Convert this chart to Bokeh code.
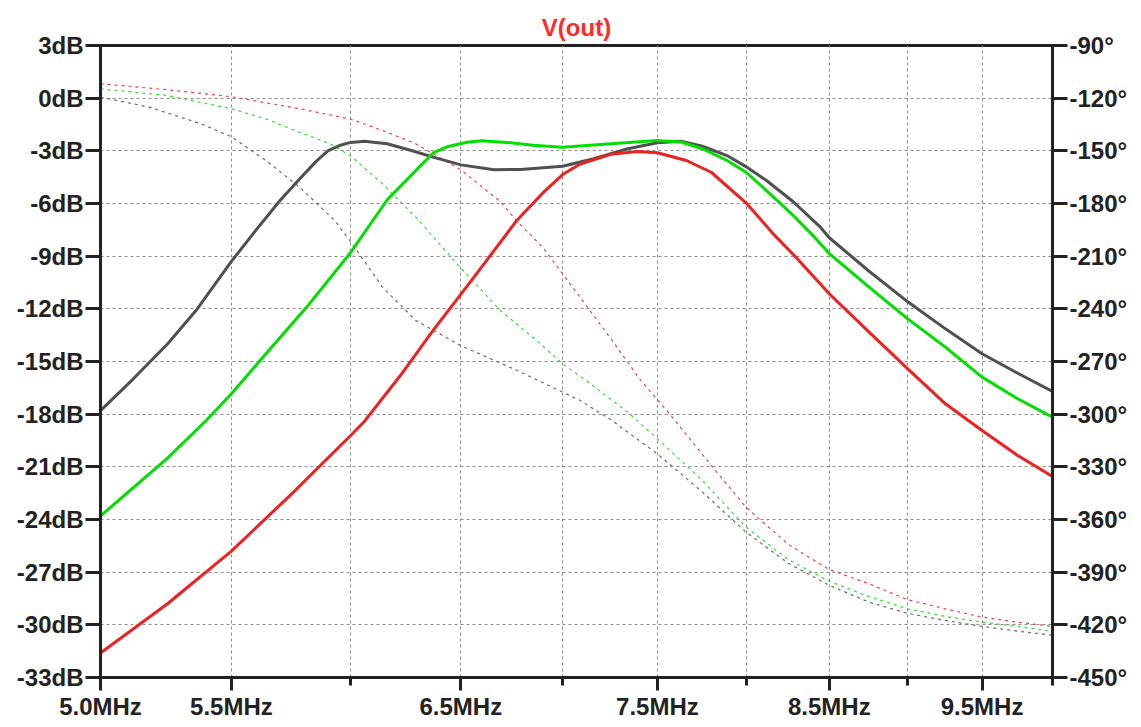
from bokeh.plotting import figure
from bokeh.models import Range1d, LinearAxis, FixedTicker, CustomJSTickFormatter
from bokeh.embed import file_html
from bokeh.resources import INLINE

# ---------------- data ----------------
# magnitude curves, dB vs MHz
gray_mag_freq = [5.0, 5.12, 5.25, 5.36, 5.5, 5.6, 5.7, 5.78, 5.85, 5.9, 5.95, 6.0,
                 6.06, 6.16, 6.27, 6.37, 6.5, 6.66, 6.79, 7.0, 7.16, 7.34, 7.5,
                 7.63, 7.75, 7.89, 8.0, 8.12, 8.28, 8.44, 8.5, 8.75, 9.0, 9.25,
                 9.5, 9.75, 10.0]
gray_mag = [-17.8, -16.0, -14.0, -12.1, -9.3, -7.5, -5.8, -4.6, -3.6, -3.0, -2.7, -2.52,
            -2.45, -2.6, -2.98, -3.36, -3.8, -4.08, -4.06, -3.88, -3.45, -2.88, -2.54,
            -2.45, -2.74, -3.27, -3.9, -4.69, -5.9, -7.3, -7.95, -9.86, -11.6, -13.14,
            -14.56, -15.67, -16.7]

green_mag_freq = [5.0, 5.25, 5.4, 5.5, 5.64, 5.81, 6.0, 6.16, 6.3, 6.37, 6.44, 6.53,
                  6.6, 6.74, 6.85, 7.0, 7.25, 7.5, 7.63, 7.75, 7.89, 8.0, 8.12,
                  8.28, 8.39, 8.5, 8.75, 9.0, 9.25, 9.5, 9.75, 10.0]
green_mag = [-23.8, -20.5, -18.36, -16.84, -14.56, -11.9, -8.77, -5.8, -4.0, -3.12, -2.75, -2.51,
             -2.43, -2.54, -2.68, -2.8, -2.6, -2.41, -2.5, -2.88, -3.55, -4.22, -5.26,
             -6.68, -7.73, -8.85, -10.76, -12.57, -14.18, -15.89, -17.12, -18.17]

red_mag_freq = [5.0, 5.25, 5.5, 5.75, 6.0, 6.06, 6.22, 6.37, 6.55, 6.77, 6.9, 7.0,
                7.09, 7.25, 7.39, 7.5, 7.66, 7.8, 8.0, 8.16, 8.3, 8.5, 8.75, 9.0,
                9.25, 9.5, 9.75, 10.0]
red_mag = [-31.6, -28.8, -25.8, -22.5, -19.2, -18.4, -15.8, -13.23, -10.39, -6.97, -5.4, -4.35,
           -3.75, -3.2, -3.04, -3.11, -3.55, -4.22, -5.96, -7.73, -9.1, -11.14, -13.33, -15.42,
           -17.41, -18.93, -20.35, -21.55]

# phase curves, degrees vs MHz
gray_phase_freq = [5.0, 5.18, 5.38, 5.5, 5.64, 5.78, 5.93, 6.0, 6.14, 6.29, 6.5, 6.77,
                   7.09, 7.25, 7.5, 7.75, 8.0, 8.25, 8.5, 8.75, 9.0, 9.25, 9.5, 9.75, 10.0]
gray_phase = [-119.4, -125.1, -134.6, -142, -155.5, -170.7, -189.7, -202, -227.7, -246.6, -261,
              -275, -292.2, -303.2, -322.6, -344.4, -367.2, -384.9, -397.5, -407.1, -413.5,
              -417.5, -420.9, -423.6, -425.9]

green_phase_freq = [5.0, 5.25, 5.5, 5.64, 5.78, 5.91, 6.0, 6.14, 6.29, 6.5, 6.69, 6.85,
                    7.0, 7.12, 7.34, 7.5, 7.75, 8.0, 8.25, 8.5, 8.75, 9.0, 9.25, 9.5,
                    9.75, 10.0]
green_phase = [-114.7, -118.5, -126, -131.8, -139.4, -146, -153, -168.8, -187.8, -216.8, -241,
               -256.2, -271.3, -280.8, -298.9, -314, -337.8, -364.4, -382.8, -395.2, -403.9,
               -410.9, -415.2, -418.5, -420.9, -423.7]

red_phase_freq = [5.0, 5.25, 5.5, 5.78, 6.0, 6.14, 6.29, 6.5, 6.69, 6.77, 6.9, 7.0,
                  7.25, 7.41, 7.57, 7.8, 8.0, 8.08, 8.26, 8.5, 8.75, 9.0, 9.25, 9.5,
                  9.75, 10.0]
red_phase = [-111.8, -115.2, -119.2, -126, -132, -138.4, -146, -160.8, -179, -190, -205, -220,
             -257, -280.8, -300.2, -329.2, -353, -360, -374.8, -388.5, -396.6, -405.7, -410.9,
             -415.6, -418.5, -420.9]

X_MAJOR = [5.0, 5.5, 6.5, 7.5, 8.5, 9.5]
X_MINOR = [6.0, 7.0, 8.0, 9.0, 10.0]
DB_TICKS = list(range(-33, 4, 3))
DEG_TICKS = list(range(-450, -89, 30))

TITLE = "V(out)"
GRAY, GREEN, RED = "#505050", "#00e000", "#f02020"
FONT = "Liberation Sans"
AXC = "#222222"

# ---------------- figure ----------------
p = figure(width=1133, height=723, x_axis_type="log",
           x_range=Range1d(5.0, 10.0), y_range=Range1d(-33, 3),
           output_backend="svg", toolbar_location=None,
           min_border_left=100, min_border_right=81,
           min_border_top=45, min_border_bottom=46)
p.extra_y_ranges = {"phase": Range1d(-450, -90)}

p.title.text = TITLE
p.title.align = "center"
p.title.text_color = "#ff2a2a"
p.title.text_font = FONT
p.title.text_font_size = "24px"
p.title.text_font_style = "bold"

p.outline_line_color = AXC
p.outline_line_width = 3
p.background_fill_color = "white"
p.border_fill_color = "white"


def style_axis(ax, tick_out, minor_out=0):
    ax.axis_line_color = AXC
    ax.axis_line_width = 3
    ax.major_tick_line_color = AXC
    ax.major_tick_line_width = 3
    ax.major_tick_out = tick_out
    ax.major_tick_in = 0
    ax.minor_tick_line_color = AXC if minor_out else None
    ax.minor_tick_line_width = 3
    ax.minor_tick_out = minor_out
    ax.minor_tick_in = 0
    ax.major_label_text_font = FONT
    ax.major_label_text_font_size = "24px"
    ax.major_label_text_font_style = "bold"
    ax.major_label_text_color = AXC
    ax.major_label_standoff = 2


xt = FixedTicker(ticks=X_MAJOR, minor_ticks=X_MINOR)
xax = p.xaxis[0]
xax.ticker = xt
xax.formatter = CustomJSTickFormatter(code="return tick.toFixed(1) + 'MHz';")
style_axis(xax, 13, 8)

yt = FixedTicker(ticks=DB_TICKS, minor_ticks=[])
yax = p.yaxis[0]
yax.ticker = yt
yax.formatter = CustomJSTickFormatter(code="return tick.toFixed(0) + 'dB';")
style_axis(yax, 15)

rax = LinearAxis(y_range_name="phase",
                 ticker=FixedTicker(ticks=DEG_TICKS, minor_ticks=[]),
                 formatter=CustomJSTickFormatter(code="return tick.toFixed(0) + '\u00b0';"))
style_axis(rax, 15)
p.add_layout(rax, "right")

p.xgrid.ticker = xt
p.ygrid.ticker = yt
for g in (p.xgrid[0], p.ygrid[0]):
    g.grid_line_color = "#8c8c8c"
    g.grid_line_dash = "3 3"
    g.grid_line_width = 1
p.xgrid.minor_grid_line_color = "#8c8c8c"
p.xgrid.minor_grid_line_dash = "3 3"
p.xgrid.minor_grid_line_width = 1

# phase (dotted, thin)
for fx, vals, col in ((gray_phase_freq, gray_phase, GRAY),
                      (green_phase_freq, green_phase, GREEN),
                      (red_phase_freq, red_phase, RED)):
    p.line(fx, vals, y_range_name="phase", line_color=col, line_width=1.2,
           line_dash="3 4", line_alpha=0.85)

# magnitude (solid, thick)
for fx, vals, col in ((gray_mag_freq, gray_mag, GRAY),
                      (green_mag_freq, green_mag, GREEN),
                      (red_mag_freq, red_mag, RED)):
    p.line(fx, vals, line_color=col, line_width=3, line_join="round")

open("out.html", "w").write(file_html(p, INLINE))
